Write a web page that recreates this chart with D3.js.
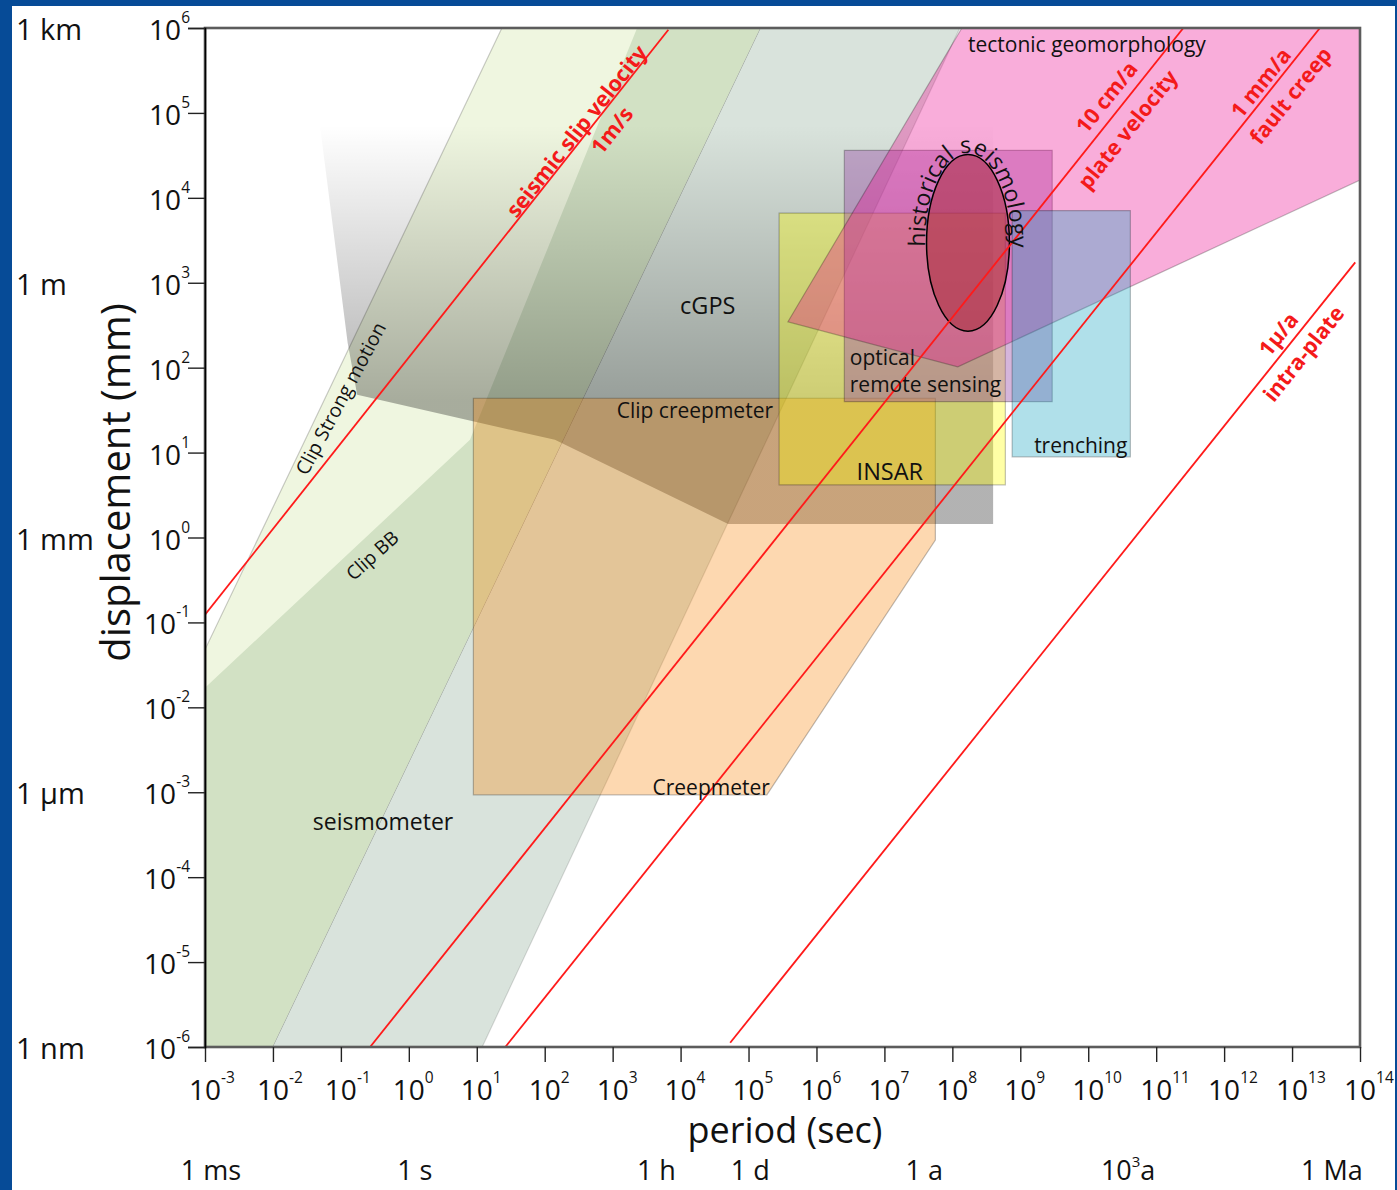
<!DOCTYPE html>
<html><head><meta charset="utf-8">
<script src="https://cdn.jsdelivr.net/npm/d3@7"></script>
<style>
html,body{margin:0;padding:0;background:#fff;}
svg{display:block;}
text{font-family:"Open Sans","Noto Sans",sans-serif;}
</style></head><body>
<svg id="chart"></svg>
<script>
// ===== DATA (all coordinates are log10 of period [s] and log10 of displacement [mm]) =====
const periodExponents = d3.range(-3, 15);        // x-axis ticks 10^-3 ... 10^14
const displacementExponents = d3.range(-6, 7);   // y-axis ticks 10^-6 ... 10^6

const timeLabels  = ["1 ms", "1 s", "1 h", "1 d", "1 a", "10^3a", "1 Ma"];
const timeSeconds = [1e-3, 1, 3600, 86400, 3.156e7, 3.156e10, 3.156e13];
const lengthLabels = ["1 km", "1 m", "1 mm", "1 μm", "1 nm"];
const lengthMM     = [1e6, 1e3, 1, 1e-3, 1e-6];

// instrument ranges (polygons)
const cgpsBand         = [[5.17,6],[8.11,6],[1.08,-6],[-2.01,-6]];
const strongMotionBand = [[-3,-1.32],[1.37,6],[5.17,6],[-2.01,-6],[-3,-6]];
const broadbandBand    = [[-3,-6],[-3,-1.77],[0.90,1.15],[3.36,6],[5.17,6],[-2.01,-6]];
const clipZone         = [[-1.49,6],[8.60,6],[8.60,0.16],[4.70,0.16],[2.15,1.15],[-0.76,1.68],[-0.90,2.29]];
const creepmeterRange  = [[0.95,1.64],[7.75,1.64],[7.75,-0.03],[5.27,-3.03],[0.95,-3.03]];
const insarRange       = [[5.45,3.82],[8.78,3.82],[8.78,0.62],[5.45,0.62]];
const opticalRange     = [[6.41,4.56],[9.47,4.56],[9.47,1.60],[6.41,1.60]];
const tectonicRange    = [[8.14,6],[14,6],[14,4.21],[8.08,2.01],[5.58,2.54]];
const trenchingRange   = [[8.88,3.85],[10.62,3.85],[10.62,0.95],[8.88,0.95]];
const historicalCenter = [8.23, 3.47];
const historicalRadius = [0.61, 1.04];
const clipFadeRange    = [4.86, 1.62];   // displacement exponents where the grey shading fades in

// velocity reference lines
const velocityStarts = [[-3,-0.91],[-0.57,-6],[1.42,-6],[4.73,-5.95]];
const velocityEnds   = [[3.82,5.98],[11.40,6],[13.41,6],[13.93,3.24]];
const velocityLabels = [
  ["seismic slip velocity", 2.46, 4.79, 0], ["1m/s", 2.98, 4.80, 0],
  ["10 cm/a", 10.26, 5.19, 1], ["plate velocity", 10.57, 4.81, 1],
  ["1 mm/a", 12.53, 5.36, 2], ["fault creep", 12.97, 5.21, 2],
  ["1μ/a", 12.79, 2.40, 3], ["intra-plate", 13.16, 2.17, 3]
];

// region labels: text, period exp, displacement exp
const regionLabels = [
  ["cGPS", 4.40, 2.74],
  ["seismometer", -0.38, -3.34],
  ["Clip creepmeter", 4.21, 1.50],
  ["Creepmeter", 4.45, -2.94],
  ["INSAR", 7.08, 0.78],
  ["optical", 6.49, 2.13],
  ["remote sensing", 6.49, 1.81],
  ["trenching", 9.89, 1.09],
  ["tectonic geomorphology", 8.23, 5.81],
  ["Clip Strong motion", -1.01, 1.64],
  ["Clip BB", -0.54, -0.21]
];

// ===== STYLE =====
const labelStyle = {
  "cGPS": {size: 23.5}, "seismometer": {size: 23}, "INSAR": {size: 23.5},
  "optical": {anchor: "start"}, "remote sensing": {anchor: "start"},
  "tectonic geomorphology": {anchor: "start"},
  "Clip Strong motion": {size: 19.5, rotate: -62},
  "Clip BB": {size: 19, rotate: -42}
};

// ===== LAYOUT =====
const W = 1397, H = 1190;
const plot = {left:205, right:1360, top:28, bottom:1047};
const svg = d3.select("#chart").attr("width", W).attr("height", H);
const x = d3.scaleLog().domain([1e-3, 1e14]).range([plot.left, plot.right]);
const y = d3.scaleLog().domain([1e-6, 1e6]).range([plot.bottom, plot.top]);
const px = e => x(Math.pow(10, e));
const py = e => y(Math.pow(10, e));
const lineGen = d3.line().x(d => px(d[0])).y(d => py(d[1]));

// frame
svg.append("rect").attr("width", W).attr("height", H).attr("fill", "#064b97");
svg.append("rect").attr("x", 12).attr("y", 6).attr("width", 1383).attr("height", H - 6).attr("fill", "#fff");

const defs = svg.append("defs");
defs.append("clipPath").attr("id", "plotClip").append("rect")
  .attr("x", plot.left).attr("y", plot.top)
  .attr("width", plot.right - plot.left).attr("height", plot.bottom - plot.top);
const grad = defs.append("linearGradient").attr("id", "clipFade")
  .attr("gradientUnits", "userSpaceOnUse")
  .attr("x1", 0).attr("x2", 0).attr("y1", py(clipFadeRange[0])).attr("y2", py(clipFadeRange[1]));
grad.append("stop").attr("offset", 0).attr("stop-color", "#000").attr("stop-opacity", 0);
grad.append("stop").attr("offset", 1).attr("stop-color", "#000").attr("stop-opacity", 0.30);

const g = svg.append("g").attr("clip-path", "url(#plotClip)");

const shapes = [
  {pts: cgpsBand, fill: "#d9e3dc", stroke: "rgba(0,0,0,0.13)"},
  {pts: strongMotionBand, fill: "#eff6e0", stroke: "rgba(0,0,0,0.2)"},
  {pts: broadbandBand, fill: "#d2e1c4", stroke: "none"},
  {pts: clipZone, fill: "url(#clipFade)", stroke: "none"},
  {pts: creepmeterRange, fill: "rgba(249,133,8,0.32)", stroke: "rgba(0,0,0,0.25)"},
  {pts: insarRange, fill: "rgba(255,255,0,0.35)", stroke: "rgba(0,0,0,0.25)"},
  {pts: opticalRange, fill: "rgba(150,70,165,0.40)", stroke: "rgba(0,0,0,0.25)"},
  {pts: tectonicRange, fill: "rgba(236,0,140,0.32)", stroke: "rgba(0,0,0,0.25)"},
  {pts: trenchingRange, fill: "rgba(29,166,194,0.35)", stroke: "rgba(0,0,0,0.25)"}
];
g.selectAll("path.region").data(shapes).join("path").attr("class", "region")
  .attr("d", d => lineGen(d.pts) + "Z")
  .attr("fill", d => d.fill).attr("stroke", d => d.stroke).attr("stroke-width", 1.2);

// historical seismology ellipse
const ecx = px(historicalCenter[0]), ecy = py(historicalCenter[1]);
const erx = px(historicalCenter[0] + historicalRadius[0]) - ecx;
const ery = ecy - py(historicalCenter[1] + historicalRadius[1]);
g.append("ellipse").attr("cx", ecx).attr("cy", ecy).attr("rx", erx).attr("ry", ery)
  .attr("fill", "rgba(160,30,40,0.45)").attr("stroke", "#000").attr("stroke-width", 1.5);

// velocity lines
g.selectAll("line.vel").data(velocityStarts).join("line").attr("class", "vel")
  .attr("x1", d => px(d[0])).attr("y1", d => py(d[1]))
  .attr("x2", (d, i) => px(velocityEnds[i][0])).attr("y2", (d, i) => py(velocityEnds[i][1]))
  .attr("stroke", "#ff1a1a").attr("stroke-width", 1.8);

// curved label along ellipse
const trx = erx + 1.5, trY = ery + 1.5;
const t0 = Math.PI - 0.15, t1 = 2 * Math.PI + 0.16;
const p0 = [ecx + trx * Math.cos(t0), ecy + trY * Math.sin(t0)];
const p1 = [ecx + trx * Math.cos(t1), ecy + trY * Math.sin(t1)];
defs.append("path").attr("id", "hsPath")
  .attr("d", `M${p0[0]},${p0[1]} A${trx},${trY} 0 1 1 ${p1[0]},${p1[1]}`);
svg.append("text").style("font-size", "23px").attr("fill", "#111")
  .append("textPath").attr("href", "#hsPath").attr("startOffset", "50%")
  .attr("text-anchor", "middle").text("historical seismology");

// region labels
const st = d => labelStyle[d[0]] || {};
svg.selectAll("text.region").data(regionLabels).join("text").attr("class", "region")
  .attr("transform", d => `translate(${px(d[1])},${py(d[2])}) rotate(${st(d).rotate || 0})`)
  .attr("text-anchor", d => st(d).anchor || "middle").attr("dominant-baseline", "central")
  .style("font-size", d => (st(d).size || 21) + "px").attr("fill", "#111")
  .text(d => d[0]);

// velocity labels, rotated along their line
svg.selectAll("text.vel").data(velocityLabels).join("text").attr("class", "vel")
  .attr("transform", d => {
    const s = velocityStarts[d[3]], e = velocityEnds[d[3]];
    const ang = Math.atan2(py(e[1]) - py(s[1]), px(e[0]) - px(s[0])) * 180 / Math.PI;
    return `translate(${px(d[1])},${py(d[2])}) rotate(${ang})`;
  })
  .attr("text-anchor", "middle").attr("dominant-baseline", "central")
  .style("font-size", "21.5px").style("font-weight", "bold").attr("fill", "#f41a1a")
  .text(d => d[0]);

// plot frame
svg.append("rect").attr("x", plot.left).attr("y", plot.top)
  .attr("width", plot.right - plot.left).attr("height", plot.bottom - plot.top)
  .attr("fill", "none").attr("stroke", "#5c5c5c").attr("stroke-width", 2.6);

// axes (ticks only)
const xAxis = svg.append("g").attr("transform", `translate(0,${plot.bottom})`)
  .call(d3.axisBottom(x).tickValues(periodExponents.map(e => Math.pow(10, e))).tickSize(15).tickFormat(""));
xAxis.select(".domain").remove();
xAxis.selectAll(".tick line").attr("stroke", "#222").attr("stroke-width", 1.4);
const yAxis = svg.append("g").attr("transform", `translate(${plot.left},0)`)
  .call(d3.axisLeft(y).tickValues(displacementExponents.map(e => Math.pow(10, e))).tickSize(17).tickFormat(""));
yAxis.select(".domain").attr("stroke", "#000").attr("stroke-width", 1.6);
yAxis.selectAll(".tick line").attr("stroke", "#222").attr("stroke-width", 1.4);

// tick labels as 10^n
const tickFont = 28, supFont = 15.5;
const probe = svg.append("text").style("font-size", tickFont + "px").text("10");
const tenW = probe.node().getComputedTextLength();
probe.remove();
periodExponents.forEach(e => {
  const t = svg.append("text").attr("x", px(e) - tenW / 2).attr("y", plot.bottom + 53)
    .style("font-size", tickFont + "px").attr("fill", "#111");
  t.append("tspan").text("10");
  t.append("tspan").attr("dy", -17).style("font-size", supFont + "px").text(e);
});
displacementExponents.forEach(e => {
  const t = svg.append("text").attr("x", plot.left - 15).attr("y", py(e) + 12)
    .attr("text-anchor", "end").style("font-size", tickFont + "px").attr("fill", "#111");
  t.append("tspan").text("10");
  t.append("tspan").attr("dy", -17).style("font-size", supFont + "px").text(e);
});

// unit labels
lengthLabels.forEach((l, i) => {
  svg.append("text").attr("x", 16).attr("y", y(lengthMM[i]) + 12)
    .style("font-size", "29px").attr("fill", "#111").text(l);
});
timeLabels.forEach((l, i) => {
  const t = svg.append("text").attr("x", x(timeSeconds[i]) + 6).attr("y", 1180)
    .attr("text-anchor", "middle").style("font-size", "27px").attr("fill", "#111");
  if (l.includes("^")) {
    const [base, rest] = l.split("^");
    t.append("tspan").text(base);
    t.append("tspan").attr("dy", -13).style("font-size", "15px").text(rest[0]);
    t.append("tspan").attr("dy", 13).text(rest.slice(1));
  } else t.text(l);
});

// axis titles
svg.append("text").attr("transform", `translate(130,${(plot.top + plot.bottom) / 2 - 55}) rotate(-90)`)
  .attr("text-anchor", "middle").style("font-size", "40px").attr("fill", "#111").text("displacement (mm)");
svg.append("text").attr("x", 785).attr("y", 1143)
  .attr("text-anchor", "middle").style("font-size", "36px").attr("fill", "#111").text("period (sec)");
</script>
</body></html>
